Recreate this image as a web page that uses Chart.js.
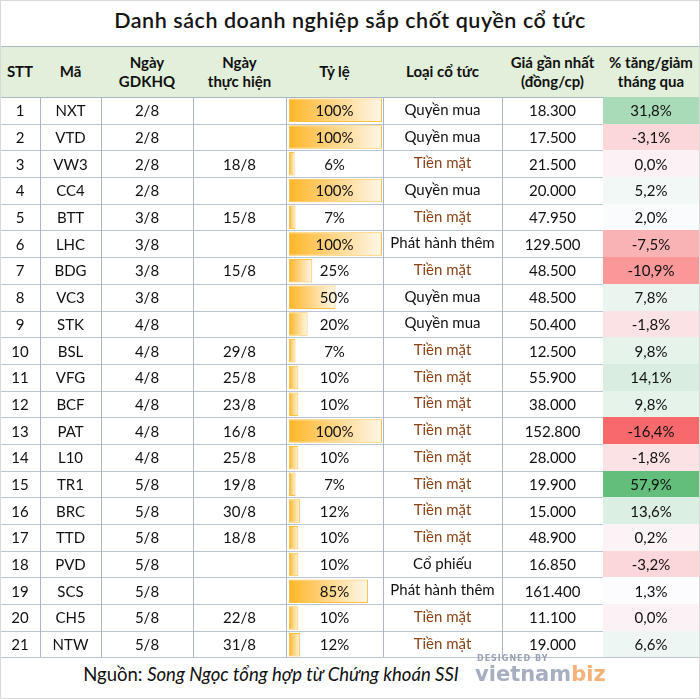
<!DOCTYPE html>
<html><head><meta charset="utf-8">
<script src="https://cdn.jsdelivr.net/npm/chart.js@4"></script>
<style>
html,body{margin:0;padding:0;background:#fff;}
body{width:700px;height:699px;position:relative;overflow:hidden;font-family:Lato,'Noto Sans',sans-serif;color:#111;}
#frame{position:absolute;left:0;top:0;width:700px;height:699px;box-sizing:border-box;border:1px solid #d9d9d9;z-index:5;pointer-events:none;}
#title{position:absolute;left:0;top:7px;width:700px;text-align:center;font-size:21.5px;font-weight:600;letter-spacing:0.55px;color:#151515;}
.cell{position:absolute;box-sizing:border-box;display:flex;align-items:center;justify-content:center;text-align:center;font-size:15px;white-space:nowrap;z-index:2;border-right:1px solid #aab6c8;border-bottom:1px solid #bcc5d3;}
.hdr{background:#e2efda;font-weight:700;line-height:19px;font-size:15px;border-bottom:1px solid #aab6c8;}
.brown{color:#8a4318;}
#bars{position:absolute;left:288px;top:97px;z-index:1;}
#foot{position:absolute;left:0;width:542px;top:663px;text-align:center;font-size:18.5px;color:#111;z-index:2;}
.wm{position:absolute;z-index:3;font-weight:700;font-family:'DejaVu Sans',sans-serif;line-height:1;}
</style></head>
<body>
<div id="frame"></div>
<div id="title">Danh sách doanh nghiệp sắp chốt quyền cổ tức</div>
<canvas id="bars" width="96" height="561"></canvas>
<div id="foot">Nguồn: <i>Song Ngọc tổng hợp từ Chứng khoán SSI</i></div>
<div class="wm" style="left:477px;top:655px;font-size:8px;color:#9aa3b5;letter-spacing:1px;">DESIGNED BY</div>
<div class="wm" style="left:475px;top:664px;font-size:21px;color:#a6aec0;">vietnam<span style="color:#f4b27a">biz</span></div>
<script>
const headers = ['STT','Mã','Ngày<br>GDKHQ','Ngày<br>thực hiện','Tỷ lệ','Loại cổ tức','Giá gần nhất<br>(đồng/cp)','% tăng/giảm<br>tháng qua'];
const stt = [1,2,3,4,5,6,7,8,9,10,11,12,13,14,15,16,17,18,19,20,21];
const codes = ['NXT','VTD','VW3','CC4','BTT','LHC','BDG','VC3','STK','BSL','VFG','BCF','PAT','L10','TR1','BRC','TTD','PVD','SCS','CH5','NTW'];
const exDates = ['2/8','2/8','2/8','2/8','3/8','3/8','3/8','3/8','4/8','4/8','4/8','4/8','4/8','4/8','5/8','5/8','5/8','5/8','5/8','5/8','5/8'];
const payDates = ['','','18/8','','15/8','','15/8','','','29/8','25/8','23/8','16/8','25/8','19/8','30/8','18/8','','','22/8','31/8'];
const ratios = [100,100,6,100,7,100,25,50,20,7,10,10,100,10,7,12,10,10,85,10,12];
const types = ['Quyền mua','Quyền mua','Tiền mặt','Quyền mua','Tiền mặt','Phát hành thêm','Tiền mặt','Quyền mua','Quyền mua','Tiền mặt','Tiền mặt','Tiền mặt','Tiền mặt','Tiền mặt','Tiền mặt','Tiền mặt','Tiền mặt','Cổ phiếu','Phát hành thêm','Tiền mặt','Tiền mặt'];
const prices = ['18.300','17.500','21.500','20.000','47.950','129.500','48.500','48.500','50.400','12.500','55.900','38.000','152.800','28.000','19.900','15.000','48.900','16.850','161.400','11.100','19.000'];
const changes = [31.8,-3.1,0.0,5.2,2.0,-7.5,-10.9,7.8,-1.8,9.8,14.1,9.8,-16.4,-1.8,57.9,13.6,0.2,-3.2,1.3,0.0,6.6];

// layout
const colX = [0,41,102,194,287,384,503,604,700];
const hdrTop = 46, hdrBot = 97, rowH = (657.5-97)/21;

function mk(x0,y0,x1,y1,html,cls,style){
  const d=document.createElement('div');
  d.className='cell '+(cls||'');
  d.style.left=x0+'px';d.style.top=y0+'px';
  d.style.width=(x1-x0+1)+'px';d.style.height=(y1-y0+1)+'px';
  if(style) Object.assign(d.style,style);
  d.innerHTML=html;
  document.body.appendChild(d);
  return d;
}
const tl=document.createElement('div');
Object.assign(tl.style,{position:'absolute',left:'0px',top:hdrTop+'px',width:'700px',height:'1px',background:'#aab6c8',zIndex:3});
document.body.appendChild(tl);
headers.forEach((h,i)=>mk(colX[i]-1,hdrTop,colX[i+1]-1,hdrBot,h,'hdr',i===0?{borderLeft:'1px solid #aab6c8'}:null));

// colour scale (3-colour: min / 50th percentile / max)
const sorted=[...changes].sort((a,b)=>a-b);
const cMin=sorted[0], cMax=sorted[sorted.length-1], cMid=sorted[Math.floor(sorted.length/2)];
function mix(a,b,t){return a.map((v,k)=>Math.round(v+(b[k]-v)*t));}
const RED=[248,105,107], WHITE=[252,252,255], GREEN=[99,190,123];
function heat(v){
  const c = v<=cMid ? mix(RED,WHITE,(v-cMin)/(cMid-cMin)) : mix(WHITE,GREEN,(v-cMid)/(cMax-cMid));
  return 'rgb('+c.join(',')+')';
}
function fmtPct(v){return v.toFixed(1).replace('.',',')+'%';}

stt.forEach((n,r)=>{
  const y0=hdrBot+r*rowH, y1=hdrBot+(r+1)*rowH;
  const vals=[String(n),codes[r],exDates[r],payDates[r],ratios[r]+'%',types[r],prices[r],fmtPct(changes[r])];
  vals.forEach((v,i)=>{
    let cls='', st={};
    if(i===0) st.borderLeft='1px solid #aab6c8';
    if(i===5){ if(types[r]==='Tiền mặt'){cls='brown';} st.paddingBottom='3px'; }
    if(i===7) st.background=heat(changes[r]);
    mk(colX[i]-1,y0,colX[i+1]-1,y1,v,cls,st);
  });
});

// data bars for the "Tỷ lệ" column
const ctx=document.getElementById('bars').getContext('2d');
new Chart(ctx,{
  type:'bar',
  data:{labels:stt.map(String),datasets:[{
    data:ratios,
    backgroundColor:(c)=>{
      const ch=c.chart;
      if(!ch.chartArea||c.type!=='data') return '#FFC65A';
      const x0=ch.scales.x.getPixelForValue(0);
      const x1=ch.scales.x.getPixelForValue(c.raw);
      const g=ch.ctx.createLinearGradient(x0,0,Math.max(x1,x0+1),0);
      g.addColorStop(0,'#FFB628');g.addColorStop(1,'#FFF7EA');
      return g;
    },
    borderColor:'#FFC043',borderWidth:1,borderSkipped:false,
    barPercentage:0.88,categoryPercentage:1
  }]},
  options:{
    indexAxis:'y',responsive:false,animation:false,events:[],
    plugins:{legend:{display:false},tooltip:{enabled:false}},
    layout:{padding:{left:1,right:2,top:0,bottom:0}},
    scales:{x:{min:0,max:100,display:false},y:{display:false}}
  }
});
</script>
</body></html>
